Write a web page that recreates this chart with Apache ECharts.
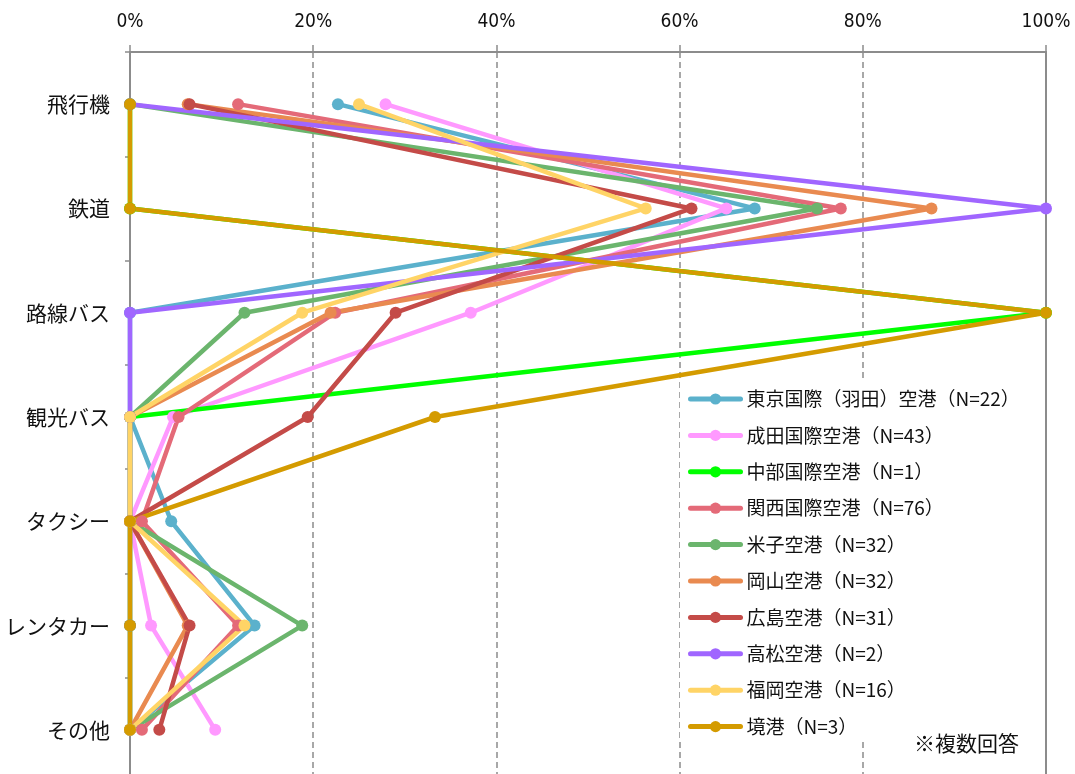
<!DOCTYPE html>
<html lang="ja">
<head>
<meta charset="utf-8">
<title>空港別 二次交通の利用手段</title>
<script src="https://cdn.jsdelivr.net/npm/echarts@6/dist/echarts.min.js"></script>
<style>
  html, body { margin: 0; padding: 0; background: #ffffff; }
  #chart { width: 1075px; height: 774px; }
</style>
</head>
<body>
<div id="chart"></div>
<script>
// Transport modes (vertical category axis, top to bottom)
const categories = ['飛行機', '鉄道', '路線バス', '観光バス', 'タクシー', 'レンタカー', 'その他'];

// Share of respondents per mode (%), one array per airport
const tokyo    = [22.7, 68.2, 0,    0,    4.5, 13.6, 0];
const narita   = [27.9, 65.1, 37.2, 4.7,  0,   2.3,  9.3];
const chubu    = [0,    0,    100,  0,    0,   0,    0];
const kansai   = [11.8, 77.6, 22.4, 5.3,  1.3, 11.8, 1.3];
const yonago   = [0,    75.0, 12.5, 0,    0,   18.8, 0];
const okayama  = [6.3,  87.5, 21.9, 0,    0,   6.3,  0];
const hiroshima= [6.5,  61.3, 29.0, 19.4, 0,   6.5,  3.2];
const takamatsu= [0,    100,  0,    0,    0,   0,    0];
const fukuoka  = [25.0, 56.3, 18.8, 0,    0,   12.5, 0];
const sakaiminato = [0, 0,    100,  33.3, 0,   0,    0];

const seriesNames = [
  '東京国際（羽田）空港（N=22）',
  '成田国際空港（N=43）',
  '中部国際空港（N=1）',
  '関西国際空港（N=76）',
  '米子空港（N=32）',
  '岡山空港（N=32）',
  '広島空港（N=31）',
  '高松空港（N=2）',
  '福岡空港（N=16）',
  '境港（N=3）'
];
const seriesValues = [tokyo, narita, chubu, kansai, yonago, okayama, hiroshima, takamatsu, fukuoka, sakaiminato];
const seriesColors = ['#5BB1CC', '#FF99FF', '#00FF00', '#E46A78', '#6BB56D', '#E98A50', '#C44B48', '#A066FF', '#FFD466', '#D49B00'];

// Value axis ticks
const xTicks = { min: 0, max: 100, interval: 20 };
const note = '※複数回答';

const jpFont = '"Noto Sans CJK JP", "Noto Sans", sans-serif';
const axisGray = '#8C8C8C';

const chart = echarts.init(document.getElementById('chart'), null, { renderer: 'canvas' });

const series = seriesNames.map((name, i) => ({
  name: name,
  type: 'line',
  data: seriesValues[i],
  xAxisIndex: 0,
  yAxisIndex: 0,
  symbol: 'circle',
  symbolSize: 12,
  showSymbol: true,
  animation: false,
  lineStyle: { width: 4.5, color: seriesColors[i], cap: 'round', join: 'round' },
  itemStyle: { color: seriesColors[i] },
  emphasis: { disabled: true }
}));

chart.setOption({
  backgroundColor: '#ffffff',
  animation: false,
  grid: { left: 130, top: 52, width: 916, height: 730, containLabel: false, outerBoundsMode: 'none' },
  xAxis: {
    type: 'value',
    position: 'top',
    min: xTicks.min,
    max: xTicks.max,
    interval: xTicks.interval,
    axisLine: { show: true, lineStyle: { color: axisGray, width: 2 } },
    axisTick: { show: true, length: 7, lineStyle: { color: axisGray, width: 1.5 } },
    axisLabel: {
      formatter: '{value}%',
      margin: 20,
      color: '#111111',
      fontFamily: '"Liberation Sans Narrow", "DejaVu Sans Condensed", sans-serif',
      fontSize: 19
    },
    splitLine: { show: true, lineStyle: { color: axisGray, width: 1.5, type: [6, 4] } }
  },
  yAxis: [
    {
      type: 'category',
      data: categories,
      inverse: true,
      boundaryGap: true,
      axisLine: { show: true, onZero: false, lineStyle: { color: axisGray, width: 2 } },
      axisTick: { show: true, length: 5, lineStyle: { color: axisGray, width: 1.5 } },
      axisLabel: { margin: 20, color: '#111111', fontFamily: jpFont, fontSize: 21 },
      splitLine: { show: false }
    },
    {
      type: 'category',
      data: categories,
      inverse: true,
      position: 'right',
      axisLine: { show: true, onZero: false, lineStyle: { color: axisGray, width: 2 } },
      axisTick: { show: false },
      axisLabel: { show: false },
      splitLine: { show: false }
    }
  ],
  legend: {
    orient: 'vertical',
    left: 680,
    top: 381,
    padding: [7, 10, 4, 8],
    backgroundColor: '#ffffff',
    itemWidth: 50,
    itemHeight: 14,
    itemGap: 14.4,
    selectedMode: false,
    lineStyle: { width: 5 },
    textStyle: { fontFamily: jpFont, fontSize: 19, lineHeight: 22, color: '#111111', padding: [0, 0, 0, 1] },
    data: seriesNames
  },
  graphic: [
    {
      type: 'text',
      left: 914,
      top: 733,
      z: 200,
      zlevel: 1,
      style: { text: note, fontFamily: jpFont, fontSize: 21, fill: '#111111' }
    }
  ],
  series: series
});
</script>
</body>
</html>
